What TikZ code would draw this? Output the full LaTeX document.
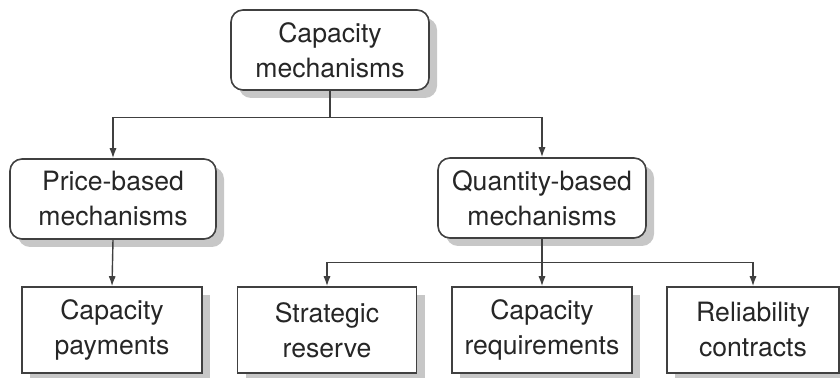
\documentclass[tikz,border=0pt]{standalone}
\usepackage{fontspec}
\setmainfont{TeX Gyre Heros}
\usetikzlibrary{arrows.meta,shadows}
\begin{document}
\begin{tikzpicture}[x=0.5pt,y=-0.5pt,
  font=\fontsize{13.3}{17.5}\selectfont,
  every node/.style={align=center,text=black!85,inner sep=0pt},
  box/.style={draw=black!75,line width=0.8pt,fill=white,minimum height=43pt,
    drop shadow={shadow xshift=4pt,shadow yshift=-4pt,fill=black!22,opacity=1}},
  rbox/.style={box,rounded corners=6pt,minimum height=40pt},
  arr/.style={draw=black!75,line width=0.7pt,-{Latex[length=5pt,width=3.6pt]}}]
\useasboundingbox (0,0) rectangle (840,378);
% upper row
\node[rbox,minimum width=99pt] (top) at (330,50) {Capacity\\mechanisms};
\node[rbox,minimum width=103pt] (price) at (113,199) {Price-based\\mechanisms};
\node[rbox,minimum width=104pt] (quant) at (542,198) {Quantity-based\\mechanisms};
% lower row
\node[box,minimum width=90pt] (pay) at (112,330) {Capacity\\payments};
\node[box,minimum width=89.5pt] (strat) at (327,330) {Strategic\\reserve};
\node[box,minimum width=90pt] (creq) at (542,330) {Capacity\\requirements};
\node[box,minimum width=86pt] (rel) at (753,330) {Reliability\\contracts};
% connectors
\draw[arr] (top.south) -- ++(0,27) -| (price.north);
\draw[arr] (top.south) -- ++(0,27) -| (quant.north);
\draw[arr] (price.south) -- (pay.north);
\draw[arr] (quant.south) -- ++(0,24) -| (strat.north);
\draw[arr] (quant.south) -- (creq.north);
\draw[arr] (quant.south) -- ++(0,24) -| (rel.north);
\end{tikzpicture}
\end{document}
